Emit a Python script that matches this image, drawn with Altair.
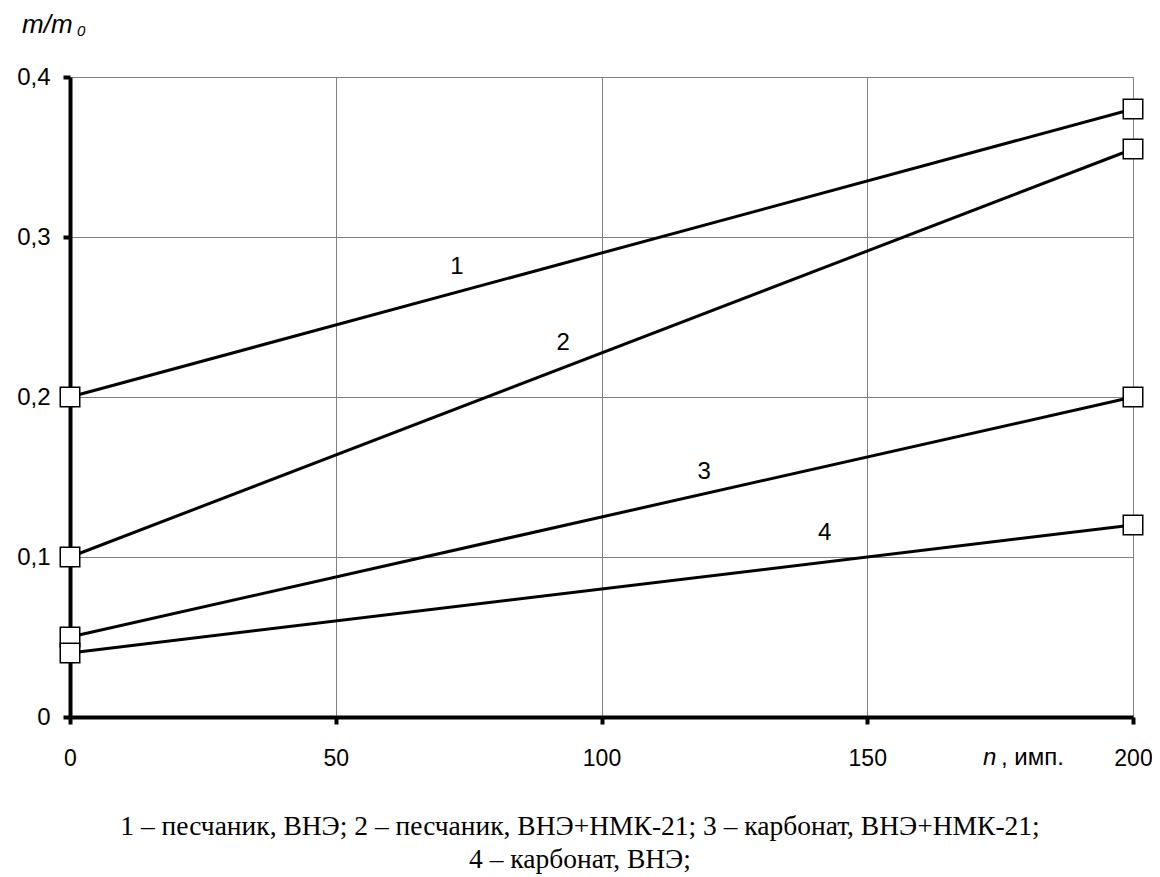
import altair as alt
import pandas as pd

# ---- data ----
n_vals = [0, 200]
series_ids = ["1", "2", "3", "4"]
m1 = [0.20, 0.380]
m2 = [0.10, 0.355]
m3 = [0.05, 0.200]
m4 = [0.04, 0.120]

label_text = ["1", "2", "3", "4"]
label_n = [72.8, 92.8, 119.3, 142.0]
label_m = [0.281, 0.234, 0.153, 0.115]

x_ticks = [0, 50, 100, 150, 200]
y_ticks = [0, 0.1, 0.2, 0.3, 0.4]

caption_lines = [
    "1 – песчаник, ВНЭ; 2 – песчаник, ВНЭ+НМК-21; 3 – карбонат, ВНЭ+НМК-21;",
    "4 – карбонат, ВНЭ;",
]

rows = []
for sid, ms in zip(series_ids, [m1, m2, m3, m4]):
    for n, m in zip(n_vals, ms):
        rows.append({"s": sid, "n": n, "m": m})
df = pd.DataFrame(rows)
lab = pd.DataFrame({"t": label_text, "n": label_n, "m": label_m})

W, H = 1063, 640
FONT = "Liberation Sans"

x_scale = alt.Scale(domain=[0, 200], nice=False)
y_scale = alt.Scale(domain=[0, 0.4], nice=False)

x_enc = alt.X("n:Q", scale=x_scale, axis=alt.Axis(
    values=x_ticks, title=None, grid=True, gridColor="#808080", gridWidth=1,
    domainColor="black", domainWidth=4, tickColor="black", tickWidth=4,
    tickSize=7, labelPadding=23, labelFontSize=23, labelFont=FONT,
    labelColor="black", labelFlush=False, labelOverlap=False, labelBound=False))
y_enc = alt.Y("m:Q", scale=y_scale, axis=alt.Axis(
    values=y_ticks, title=None, grid=True, gridColor="#808080", gridWidth=1,
    domainColor="black", domainWidth=4, tickColor="black", tickWidth=4,
    tickSize=7, labelPadding=13, labelFontSize=24, labelFont=FONT,
    labelColor="black", labelFlush=False, labelOverlap=False,
    labelExpr="datum.value == 0 ? '0' : replace(format(datum.value, '.1f'), '.', ',')"))

base = alt.Chart(df)
lines = base.mark_line(color="black", strokeWidth=3).encode(
    x=x_enc, y=y_enc, detail="s:N")
points = base.mark_point(shape="square", size=380, filled=True, fill="white",
                         stroke="black", strokeWidth=1.5, opacity=1).encode(
    x="n:Q", y="m:Q")

labels = alt.Chart(lab).mark_text(fontSize=24, font=FONT, color="black").encode(
    x="n:Q", y="m:Q", text="t:N")

ytitle_a = alt.Chart(pd.DataFrame({"t": ["m/m"]})).mark_text(
    fontSize=26, font=FONT, fontStyle="italic", align="left",
    baseline="alphabetic", color="black"
).encode(x=alt.value(-48), y=alt.value(-44), text="t:N")
ytitle_b = alt.Chart(pd.DataFrame({"t": ["0"]})).mark_text(
    fontSize=15, font=FONT, fontStyle="italic", align="left",
    baseline="alphabetic", color="black"
).encode(x=alt.value(7), y=alt.value(-41), text="t:N")

xtitle_a = alt.Chart(pd.DataFrame({"t": ["n"]})).mark_text(
    fontSize=24, font=FONT, fontStyle="italic", align="left",
    baseline="alphabetic", color="black"
).encode(x=alt.value(913), y=alt.value(H + 48), text="t:N")
xtitle_b = alt.Chart(pd.DataFrame({"t": [", имп."]})).mark_text(
    fontSize=24, font=FONT, align="left", baseline="alphabetic", color="black"
).encode(x=alt.value(931), y=alt.value(H + 48), text="t:N")

cap = pd.DataFrame({"t": caption_lines, "yy": [H + 118, H + 151]})
caption = alt.Chart(cap).mark_text(
    fontSize=27.5, font="Liberation Serif", color="black", align="center",
    baseline="alphabetic"
).encode(x=alt.value(510), y=alt.Y("yy:Q", scale=None), text="t:N")

chart = alt.layer(lines, points, labels, ytitle_a, ytitle_b, xtitle_a, xtitle_b, caption).properties(
    width=W, height=H,
    autosize=alt.AutoSizeParams(type="none"),
    padding={"left": 62, "top": 69, "right": 19, "bottom": 168},
).configure_view(stroke="#808080", strokeWidth=1).configure(background="white")

chart.save("out.html", embed_options={"renderer": "svg", "actions": False})
